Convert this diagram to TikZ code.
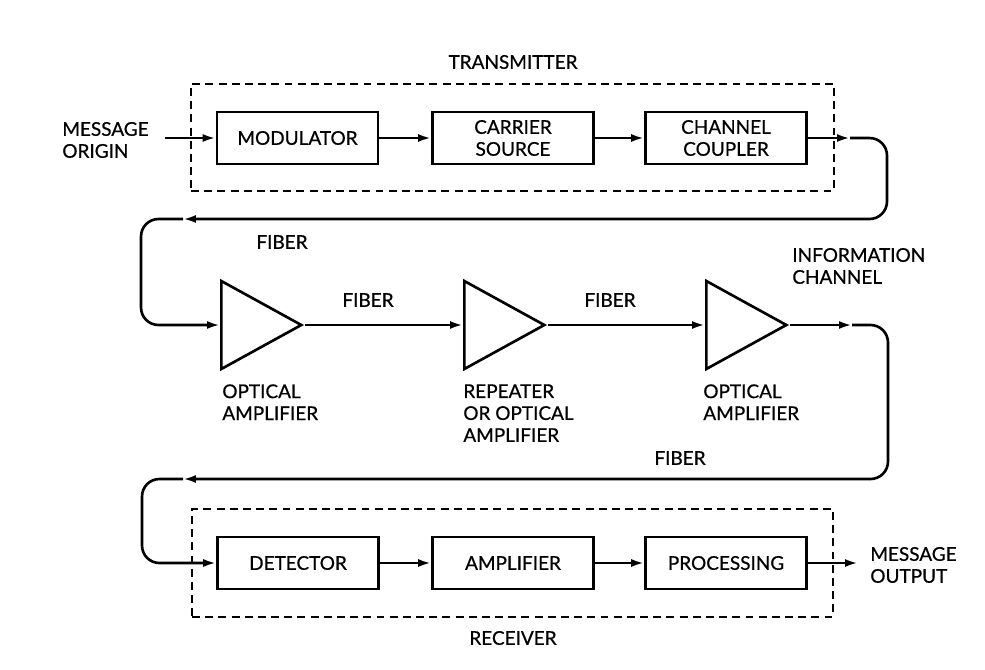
\documentclass[tikz,border=0pt]{standalone}
\usepackage{fontspec}
\setmainfont{Lato}[FakeBold=0.6]
\usetikzlibrary{shapes.geometric,arrows.meta}
\tikzset{
block/.style={draw, line width=1.5pt, minimum width=3.22cm, minimum height=1.04cm,
	inner sep=0pt, align=center, font=\fontsize{10.8}{12.5}\selectfont},
amptri/.style={draw, line width=1.5pt, isosceles triangle, isosceles triangle stretches,
	minimum width=1.76cm, minimum height=1.6cm, inner sep=0pt, anchor=lower side},
wire/.style={line width=1.5pt, -{Latex[length=2.6mm,width=1.6mm]}},
group/.style={draw, line width=1pt, dash pattern=on 4.5pt off 3pt},
lbl/.style={align=left, inner sep=0pt, font=\fontsize{10.8}{12.5}\selectfont}
}

\begin{document}
\begin{tikzpicture}[x=0.02cm, y=-0.02cm]
	\useasboundingbox (0,0) rectangle (985,670);
	% transmitter
	\node[group, minimum width=12.86cm, minimum height=2.14cm] (tx) at (512.5,137.5) {};
	\node[lbl] (txlbl) at (513,62) {TRANSMITTER};
	\node[lbl, anchor=west] (org) at (62,140) {MESSAGE\\ORIGIN};
	\coordinate (orgend) at (165,138);
	\node[block] (mod) at (297.5,138) {MODULATOR};
	\node[block] (src) at (513,138) {CARRIER\\SOURCE};
	\node[block] (cpl) at (726,138) {CHANNEL\\COUPLER};
	\draw[wire] (orgend) -- (mod.west);
	\draw[wire] (mod) -- (src);
	\draw[wire] (src) -- (cpl);
	% receiver
	\node[group, minimum width=12.82cm, minimum height=2.16cm] (rx) at (512.5,563) {};
	\node[lbl] (rxlbl) at (513,638) {RECEIVER};
	\node[block] (det) at (298,563) {DETECTOR};
	\node[block] (amp) at (513,563) {AMPLIFIER};
	\node[block] (proc) at (726,563) {PROCESSING};
	\node[lbl, anchor=west] (out) at (870,565) {MESSAGE\\OUTPUT};
	\coordinate (outend) at (858,563);
	\draw[wire] (det) -- (amp);
	\draw[wire] (amp) -- (proc);
	\draw[wire] (proc.east) -- (outend);
	% information channel
	\node[amptri] (tri1) at (220,325) {};
	\node[amptri] (tri2) at (463,325) {};
	\node[amptri] (tri3) at (705,325) {};
	\node[lbl, anchor=north west] (tri1lbl) at (222,384) {OPTICAL\\AMPLIFIER};
	\node[lbl, anchor=north west] (tri2lbl) at (463,384) {REPEATER\\OR OPTICAL\\AMPLIFIER};
	\node[lbl, anchor=north west] (tri3lbl) at (703,384) {OPTICAL\\AMPLIFIER};
	\node[lbl] (fib1) at (282,242) {FIBER};
	\node[lbl] (fib2) at (368,300) {FIBER};
	\node[lbl] (fib3) at (610,300) {FIBER};
	\node[lbl] (fib4) at (680,458) {FIBER};
	\node[lbl, anchor=west] (chan) at (792,266) {INFORMATION\\CHANNEL};
	\coordinate (c1) at (850,138);
	\coordinate (c2) at (183,219);
	\coordinate (c3) at (852,325);
	\coordinate (c4) at (183,479);
	\draw[wire] (cpl.east) -- (c1);
	\draw[wire, rounded corners=0.35cm] (c1) -- (887,138) -- (887,219) -- (c2);
	\draw[wire, rounded corners=0.35cm] (c2) -- (141,219) -- (141,325) -- (tri1.lower side);
	\draw[wire] (tri1.apex) -- (tri2.lower side);
	\draw[wire] (tri2.apex) -- (tri3.lower side);
	\draw[wire] (tri3.apex) -- (c3);
	\draw[wire, rounded corners=0.35cm] (c3) -- (888,325) -- (888,479) -- (c4);
	\draw[wire, rounded corners=0.35cm] (c4) -- (142,479) -- (142,563) -- (det.west);
\end{tikzpicture}
\end{document}
